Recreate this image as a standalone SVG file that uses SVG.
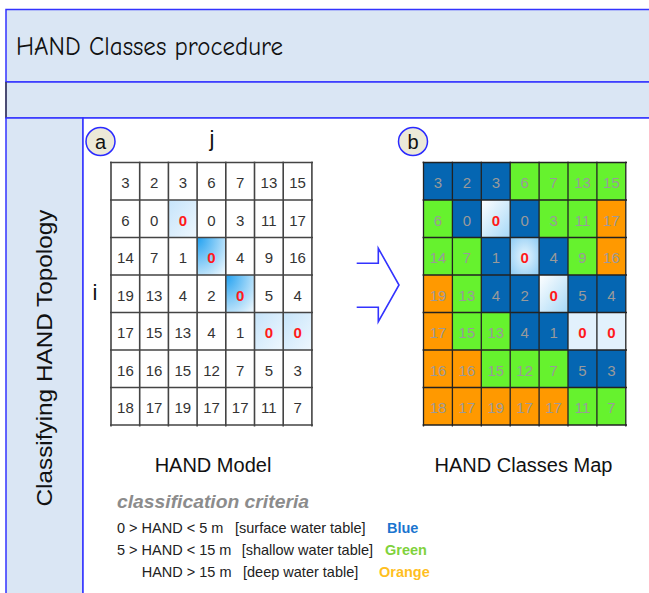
<svg xmlns="http://www.w3.org/2000/svg" width="649" height="593" viewBox="0 0 649 593">
<style>
.band{fill:#dae6f4;stroke:#3333ff;stroke-width:1.5}
.n{font-family:"Liberation Sans",Arial,sans-serif;font-size:15px;fill:#333;text-anchor:middle}
.g{fill:#9a9a9a}
.z{fill:#ff1a1a;font-weight:bold}
.B{fill:#0566b2}.G{fill:#66f22e}.O{fill:#ff9900}
.lbl{font-family:"Liberation Sans",Arial,sans-serif;fill:#111}
.crit{font-family:"Liberation Sans",Arial,sans-serif;font-size:14.5px;fill:#222}
.cl{font-weight:bold}
</style>
<defs>
<linearGradient id="hlLight" x1="0" y1="0" x2="1" y2="1"><stop offset="0" stop-color="#c6e4fa"/><stop offset="1" stop-color="#eef7fe"/></linearGradient>
<radialGradient id="hlStrong" cx="0" cy="0" r="1.3"><stop offset="0" stop-color="#1fa0f0"/><stop offset="1" stop-color="#e6f4fd"/></radialGradient>
<linearGradient id="bz" x1="0" y1="0" x2="1" y2="1"><stop offset="0" stop-color="#ffffff"/><stop offset="1" stop-color="#a6d8f7"/></linearGradient>
<radialGradient id="bz2" cx="0.5" cy="0.5" r="0.7"><stop offset="0" stop-color="#e6f5fe"/><stop offset="1" stop-color="#8ccbf4"/></radialGradient>
</defs>

<g id="header">
<rect class="band" x="6" y="9.5" width="660" height="72.5"/>
<text x="16" y="55" font-family="'Comic Sans MS','Comic Neue','Noto Sans',sans-serif" font-size="26" fill="#111" textLength="267" lengthAdjust="spacingAndGlyphs">HAND Classes procedure</text>
</g>
<g id="subheader">
<rect class="band" x="6" y="82" width="660" height="36"/>
<line x1="6" y1="82" x2="6" y2="118" stroke="#444" stroke-width="1.5"/>
</g>
<g id="lane">
<rect class="band" x="6" y="118" width="77" height="500"/>
<rect x="83" y="118" width="600" height="500" fill="#fff" stroke="#3333ff" stroke-width="1.5"/>
<text class="lbl" transform="translate(52,358) rotate(-90)" text-anchor="middle" font-size="22.5" textLength="297" lengthAdjust="spacingAndGlyphs">Classifying HAND Topology</text>
</g>

<g id="label-a">
<ellipse cx="100.5" cy="141.5" rx="14.5" ry="14" fill="#ece9d8" stroke="#2a2aff" stroke-width="1.5"/>
<text class="lbl" x="100.5" y="148.5" font-size="20" text-anchor="middle">a</text>
</g>
<g id="label-b">
<ellipse cx="413" cy="141.5" rx="14.5" ry="14" fill="#ece9d8" stroke="#2a2aff" stroke-width="1.5"/>
<text class="lbl" x="413" y="148.5" font-size="20" text-anchor="middle">b</text>
</g>
<g id="axis-labels">
<text class="lbl" x="212" y="146" font-size="22" text-anchor="middle">j</text>
<text class="lbl" x="95" y="300" font-size="22" text-anchor="middle">i</text>
</g>

<g id="gridA">
<rect x="168.4" y="200" width="28.7" height="37.5" fill="url(#hlLight)"/>
<rect x="197.1" y="237.5" width="28.7" height="37.5" fill="url(#hlStrong)"/>
<rect x="225.8" y="275" width="28.7" height="37.5" fill="url(#hlStrong)"/>
<rect x="254.5" y="312.5" width="28.7" height="37.5" fill="url(#hlLight)"/>
<rect x="283.2" y="312.5" width="28.7" height="37.5" fill="url(#hlLight)"/>
<path d="M111 161.5V426.5M139.7 161.5V426.5M168.4 161.5V426.5M197.1 161.5V426.5M225.8 161.5V426.5M254.5 161.5V426.5M283.2 161.5V426.5M311.9 161.5V426.5M110 162.5H313M110 200H313M110 237.5H313M110 275H313M110 312.5H313M110 350H313M110 387.5H313M110 425H313" stroke="#444" stroke-width="1.6" fill="none"/>
<text class="n" x="125.4" y="188">3</text><text class="n" x="154.1" y="188">2</text><text class="n" x="182.8" y="188">3</text><text class="n" x="211.5" y="188">6</text><text class="n" x="240.2" y="188">7</text><text class="n" x="268.9" y="188">13</text><text class="n" x="297.6" y="188">15</text>
<text class="n" x="125.4" y="225.5">6</text><text class="n" x="154.1" y="225.5">0</text><text class="n z" x="182.8" y="225.5">0</text><text class="n" x="211.5" y="225.5">0</text><text class="n" x="240.2" y="225.5">3</text><text class="n" x="268.9" y="225.5">11</text><text class="n" x="297.6" y="225.5">17</text>
<text class="n" x="125.4" y="263">14</text><text class="n" x="154.1" y="263">7</text><text class="n" x="182.8" y="263">1</text><text class="n z" x="211.5" y="263">0</text><text class="n" x="240.2" y="263">4</text><text class="n" x="268.9" y="263">9</text><text class="n" x="297.6" y="263">16</text>
<text class="n" x="125.4" y="300.5">19</text><text class="n" x="154.1" y="300.5">13</text><text class="n" x="182.8" y="300.5">4</text><text class="n" x="211.5" y="300.5">2</text><text class="n z" x="240.2" y="300.5">0</text><text class="n" x="268.9" y="300.5">5</text><text class="n" x="297.6" y="300.5">4</text>
<text class="n" x="125.4" y="338">17</text><text class="n" x="154.1" y="338">15</text><text class="n" x="182.8" y="338">13</text><text class="n" x="211.5" y="338">4</text><text class="n" x="240.2" y="338">1</text><text class="n z" x="268.9" y="338">0</text><text class="n z" x="297.6" y="338">0</text>
<text class="n" x="125.4" y="375.5">16</text><text class="n" x="154.1" y="375.5">16</text><text class="n" x="182.8" y="375.5">15</text><text class="n" x="211.5" y="375.5">12</text><text class="n" x="240.2" y="375.5">7</text><text class="n" x="268.9" y="375.5">5</text><text class="n" x="297.6" y="375.5">3</text>
<text class="n" x="125.4" y="413">18</text><text class="n" x="154.1" y="413">17</text><text class="n" x="182.8" y="413">19</text><text class="n" x="211.5" y="413">17</text><text class="n" x="240.2" y="413">17</text><text class="n" x="268.9" y="413">11</text><text class="n" x="297.6" y="413">7</text>
</g>

<g id="gridB">
<rect class="B" x="423.5" y="162.5" width="28.9" height="37.5"/><rect class="B" x="452.4" y="162.5" width="28.9" height="37.5"/><rect class="B" x="481.3" y="162.5" width="28.9" height="37.5"/><rect class="G" x="510.2" y="162.5" width="28.9" height="37.5"/><rect class="G" x="539.1" y="162.5" width="28.9" height="37.5"/><rect class="G" x="568" y="162.5" width="28.9" height="37.5"/><rect class="G" x="596.9" y="162.5" width="28.9" height="37.5"/>
<rect class="G" x="423.5" y="200" width="28.9" height="37.5"/><rect class="B" x="452.4" y="200" width="28.9" height="37.5"/><rect fill="url(#bz)" x="481.3" y="200" width="28.9" height="37.5"/><rect class="B" x="510.2" y="200" width="28.9" height="37.5"/><rect class="G" x="539.1" y="200" width="28.9" height="37.5"/><rect class="G" x="568" y="200" width="28.9" height="37.5"/><rect class="O" x="596.9" y="200" width="28.9" height="37.5"/>
<rect class="G" x="423.5" y="237.5" width="28.9" height="37.5"/><rect class="G" x="452.4" y="237.5" width="28.9" height="37.5"/><rect class="B" x="481.3" y="237.5" width="28.9" height="37.5"/><rect fill="url(#bz2)" x="510.2" y="237.5" width="28.9" height="37.5"/><rect class="B" x="539.1" y="237.5" width="28.9" height="37.5"/><rect class="G" x="568" y="237.5" width="28.9" height="37.5"/><rect class="O" x="596.9" y="237.5" width="28.9" height="37.5"/>
<rect class="O" x="423.5" y="275" width="28.9" height="37.5"/><rect class="G" x="452.4" y="275" width="28.9" height="37.5"/><rect class="B" x="481.3" y="275" width="28.9" height="37.5"/><rect class="B" x="510.2" y="275" width="28.9" height="37.5"/><rect fill="url(#bz)" x="539.1" y="275" width="28.9" height="37.5"/><rect class="B" x="568" y="275" width="28.9" height="37.5"/><rect class="B" x="596.9" y="275" width="28.9" height="37.5"/>
<rect class="O" x="423.5" y="312.5" width="28.9" height="37.5"/><rect class="G" x="452.4" y="312.5" width="28.9" height="37.5"/><rect class="G" x="481.3" y="312.5" width="28.9" height="37.5"/><rect class="B" x="510.2" y="312.5" width="28.9" height="37.5"/><rect class="B" x="539.1" y="312.5" width="28.9" height="37.5"/><rect fill="#e2f1fc" x="568" y="312.5" width="28.9" height="37.5"/><rect fill="#e2f1fc" x="596.9" y="312.5" width="28.9" height="37.5"/>
<rect class="O" x="423.5" y="350" width="28.9" height="37.5"/><rect class="O" x="452.4" y="350" width="28.9" height="37.5"/><rect class="G" x="481.3" y="350" width="28.9" height="37.5"/><rect class="G" x="510.2" y="350" width="28.9" height="37.5"/><rect class="G" x="539.1" y="350" width="28.9" height="37.5"/><rect class="B" x="568" y="350" width="28.9" height="37.5"/><rect class="B" x="596.9" y="350" width="28.9" height="37.5"/>
<rect class="O" x="423.5" y="387.5" width="28.9" height="37.5"/><rect class="O" x="452.4" y="387.5" width="28.9" height="37.5"/><rect class="O" x="481.3" y="387.5" width="28.9" height="37.5"/><rect class="O" x="510.2" y="387.5" width="28.9" height="37.5"/><rect class="O" x="539.1" y="387.5" width="28.9" height="37.5"/><rect class="G" x="568" y="387.5" width="28.9" height="37.5"/><rect class="G" x="596.9" y="387.5" width="28.9" height="37.5"/>
<path d="M423.5 161.5V426.5M452.4 161.5V426.5M481.3 161.5V426.5M510.2 161.5V426.5M539.1 161.5V426.5M568 161.5V426.5M596.9 161.5V426.5M625.8 161.5V426.5M422.5 162.5H627M422.5 200H627M422.5 237.5H627M422.5 275H627M422.5 312.5H627M422.5 350H627M422.5 387.5H627M422.5 425H627" stroke="#222" stroke-width="1.3" fill="none"/>
<text class="n g" x="438" y="188">3</text><text class="n g" x="466.9" y="188">2</text><text class="n g" x="495.8" y="188">3</text><text class="n g" x="524.7" y="188">6</text><text class="n g" x="553.6" y="188">7</text><text class="n g" x="582.5" y="188">13</text><text class="n g" x="611.4" y="188">15</text>
<text class="n g" x="438" y="225.5">6</text><text class="n g" x="466.9" y="225.5">0</text><text class="n z" x="495.8" y="225.5">0</text><text class="n g" x="524.7" y="225.5">0</text><text class="n g" x="553.6" y="225.5">3</text><text class="n g" x="582.5" y="225.5">11</text><text class="n g" x="611.4" y="225.5">17</text>
<text class="n g" x="438" y="263">14</text><text class="n g" x="466.9" y="263">7</text><text class="n g" x="495.8" y="263">1</text><text class="n z" x="524.7" y="263">0</text><text class="n g" x="553.6" y="263">4</text><text class="n g" x="582.5" y="263">9</text><text class="n g" x="611.4" y="263">16</text>
<text class="n g" x="438" y="300.5">19</text><text class="n g" x="466.9" y="300.5">13</text><text class="n g" x="495.8" y="300.5">4</text><text class="n g" x="524.7" y="300.5">2</text><text class="n z" x="553.6" y="300.5">0</text><text class="n g" x="582.5" y="300.5">5</text><text class="n g" x="611.4" y="300.5">4</text>
<text class="n g" x="438" y="338">17</text><text class="n g" x="466.9" y="338">15</text><text class="n g" x="495.8" y="338">13</text><text class="n g" x="524.7" y="338">4</text><text class="n g" x="553.6" y="338">1</text><text class="n z" x="582.5" y="338">0</text><text class="n z" x="611.4" y="338">0</text>
<text class="n g" x="438" y="375.5">16</text><text class="n g" x="466.9" y="375.5">16</text><text class="n g" x="495.8" y="375.5">15</text><text class="n g" x="524.7" y="375.5">12</text><text class="n g" x="553.6" y="375.5">7</text><text class="n g" x="582.5" y="375.5">5</text><text class="n g" x="611.4" y="375.5">3</text>
<text class="n g" x="438" y="413">18</text><text class="n g" x="466.9" y="413">17</text><text class="n g" x="495.8" y="413">19</text><text class="n g" x="524.7" y="413">17</text><text class="n g" x="553.6" y="413">17</text><text class="n g" x="582.5" y="413">11</text><text class="n g" x="611.4" y="413">7</text>
</g>

<g id="connectors">
<path d="M356.7 263.3H378.3V248.3L399 285L378.3 321.7V307.3H356.7" fill="none" stroke="#3333ff" stroke-width="1.6" stroke-linejoin="miter"/>
</g>

<g id="captions">
<text class="lbl" x="213" y="472" font-size="20" text-anchor="middle">HAND Model</text>
<text class="lbl" x="523.5" y="472" font-size="20" text-anchor="middle">HAND Classes Map</text>
</g>

<g id="criteria">
<text x="117" y="508" font-family="'Liberation Sans',Arial,sans-serif" font-size="19" font-weight="bold" font-style="italic" fill="#8c8c8c" textLength="192" lengthAdjust="spacingAndGlyphs">classification criteria</text>
<text class="crit" x="117" y="533">0 &gt; HAND &lt; 5 m</text>
<text class="crit" x="235" y="533">[surface water table]</text>
<text class="crit cl" x="387" y="533" fill="#1b75cf" style="fill:#1b75cf">Blue</text>
<text class="crit" x="117" y="555">5 &gt; HAND &lt; 15 m</text>
<text class="crit" x="241.7" y="555">[shallow water table]</text>
<text class="crit cl" x="385" y="555" style="fill:#7fd23c">Green</text>
<text class="crit" x="141.7" y="577">HAND &gt; 15 m</text>
<text class="crit" x="243" y="577">[deep water table]</text>
<text class="crit cl" x="379" y="577" style="fill:#ffbf1f">Orange</text>
</g>
</svg>
